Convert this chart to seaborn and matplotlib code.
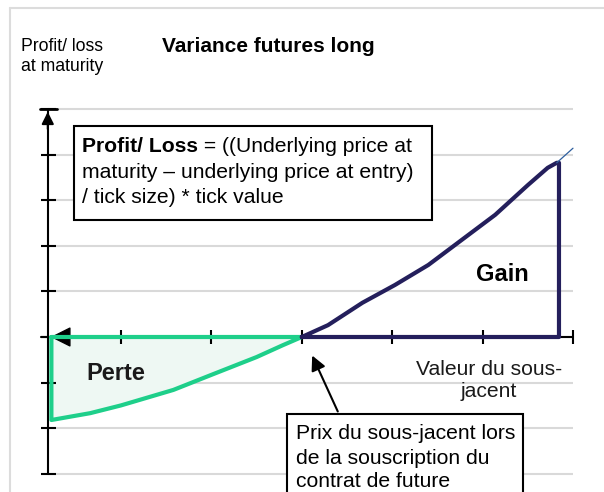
import numpy as np
import pandas as pd
import matplotlib.pyplot as plt
import seaborn as sns
from matplotlib.lines import Line2D
from matplotlib.patches import Rectangle

# Payoff profile (x = underlying value, y = profit/loss)
loss_x = [0.23, 0.66, 1.0, 1.58, 2.0, 2.5, 2.79, 3.0]
loss_y = [-1.82, -1.67, -1.50, -1.16, -0.83, -0.44, -0.18, 0.0]
gain_x = [3.0, 3.29, 3.67, 4.03, 4.40, 4.77, 5.14, 5.50, 5.72, 5.82]
gain_y = [0.0, 0.26, 0.75, 1.14, 1.58, 2.13, 2.68, 3.33, 3.71, 3.82]
gain_edge = 5.845
ext_x = [5.82, 6.0]
ext_y = [3.82, 4.14]

x_ticks = [1, 2, 3, 4, 5, 6]
y_grid = [-3, -2, -1, 0, 1, 2, 3, 4, 5]
entry_price = 3.0
axis_x = 0.19

navy = '#241f5c'
green = '#1ecf8a'

sns.set_theme(style="white")
plt.rcParams['font.family'] = ['Liberation Sans', 'DejaVu Sans']

fig = plt.figure(figsize=(6.04, 4.92), dpi=100)
ax = fig.add_axes([0, 0, 1, 1])
ax.set_xlim(-0.3385, 6.343)
ax.set_ylim(-3.399, 7.390)
ax.axis('off')

# outer grey frame
fig.add_artist(Line2D([10 / 604, 1], [1 - 8 / 492] * 2, color='#dcdcdc', lw=1.5))
fig.add_artist(Line2D([10 / 604] * 2, [0, 1 - 8 / 492], color='#dcdcdc', lw=1.5))

# gridlines
ax.hlines(y_grid, axis_x, x_ticks[-1], color='#d9d9d9', lw=1.5, zorder=0)

# y axis with ticks and arrow
ax.plot([axis_x, axis_x], [y_grid[0], y_grid[-1]], color='black', lw=1.5, zorder=3)
ax.hlines(y_grid, axis_x - 0.07, axis_x + 0.09, color='black', lw=1.5, zorder=3)
ax.plot([axis_x - 0.09, axis_x + 0.1], [y_grid[-1], y_grid[-1]], color='black', lw=2, zorder=3)
ax.annotate('', xy=(axis_x, y_grid[-1]), xytext=(axis_x, y_grid[-1] - 0.5),
            arrowprops=dict(arrowstyle='-|>', color='black', lw=1.5, mutation_scale=18),
            zorder=3)

# x axis with ticks
ax.plot([0.115, x_ticks[-1]], [0, 0], color='black', lw=1.5, zorder=2)
ax.vlines(x_ticks, -0.15, 0.15, color='black', lw=1.5, zorder=2)
ax.annotate('', xy=(axis_x, 0), xytext=(axis_x + 0.3, 0),
            arrowprops=dict(arrowstyle='-|>,head_length=0.8,head_width=0.4',
                            color='black', lw=1, mutation_scale=16),
            zorder=3)

# loss area
ax.fill_between(loss_x, loss_y, 0, color='#eef8f3', zorder=1)
loss_df = pd.DataFrame({
    'x': [loss_x[0], entry_price] + loss_x[::-1] + [loss_x[0]],
    'y': [0, 0] + loss_y[::-1] + [0],
})
sns.lineplot(data=loss_df, x='x', y='y', sort=False, estimator=None,
             color=green, lw=3, ax=ax, zorder=4,
             solid_joinstyle='round', solid_capstyle='round')

# gain area outline
gain_df = pd.DataFrame({
    'x': gain_x + [gain_edge, gain_edge, entry_price],
    'y': gain_y + [gain_y[-1], 0, 0],
})
sns.lineplot(data=gain_df, x='x', y='y', sort=False, estimator=None,
             color=navy, lw=3, ax=ax, zorder=4,
             solid_joinstyle='round', solid_capstyle='round')
ax.plot(ext_x, ext_y, color='#2e5f9e', lw=0.9, zorder=4)

# texts
ax.text(-0.106, 6.15, 'Profit/ loss\nat maturity', fontsize=12.7,
        ha='left', va='center', linespacing=1.3, color='black')
ax.text(2.626, 6.36, 'Variance futures long', fontsize=15, fontweight='bold',
        ha='center', va='center', color='black')
ax.text(0.945, -0.81, 'Perte', fontsize=17, fontweight='bold',
        ha='center', va='center', color='#1a1a1a')
ax.text(5.215, 1.37, 'Gain', fontsize=17, fontweight='bold',
        ha='center', va='center', color='black')
ax.text(5.07, -0.954, 'Valeur du sous-\njacent', fontsize=15.2,
        ha='center', va='center', linespacing=1.2, color='#1a1a1a')

# formula box
ax.add_patch(Rectangle((0.48, 2.566), 4.44 - 0.48, 4.627 - 2.566,
                       facecolor='white', edgecolor='black', lw=1.5, zorder=5))
bold = ax.text(0.569, 4.167, 'Profit/ Loss', fontsize=15.2, fontweight='bold',
               ha='left', va='center', zorder=6, color='black')
ax.annotate(' = ((Underlying price at', xy=(1, 0.5), xycoords=bold,
            fontsize=15.2, ha='left', va='center', zorder=6, color='black')
ax.text(0.569, 3.618, 'maturity \u2013 underlying price at entry)', fontsize=15.2,
        ha='left', va='center', zorder=6, color='black')
ax.text(0.569, 3.07, '/ tick size) * tick value', fontsize=15.2,
        ha='left', va='center', zorder=6, color='black')

# entry price box and arrow
ax.add_patch(Rectangle((2.836, -3.6), 5.447 - 2.836, 3.6 - 1.689,
                       facecolor='white', edgecolor='black', lw=1.5, zorder=5,
                       clip_on=False))
for yy, line in zip([-2.127, -2.654, -3.158],
                    ['Prix du sous-jacent lors', 'de la souscription du',
                     'contrat de future']):
    ax.text(2.936, yy, line, fontsize=15.2, ha='left', va='center', zorder=6,
            color='black')
ax.annotate('', xy=(3.102, -0.351), xytext=(3.411, -1.689),
            arrowprops=dict(arrowstyle='-|>', color='black', lw=1.5, mutation_scale=22),
            zorder=5)

fig.savefig('out.png', dpi=100)
